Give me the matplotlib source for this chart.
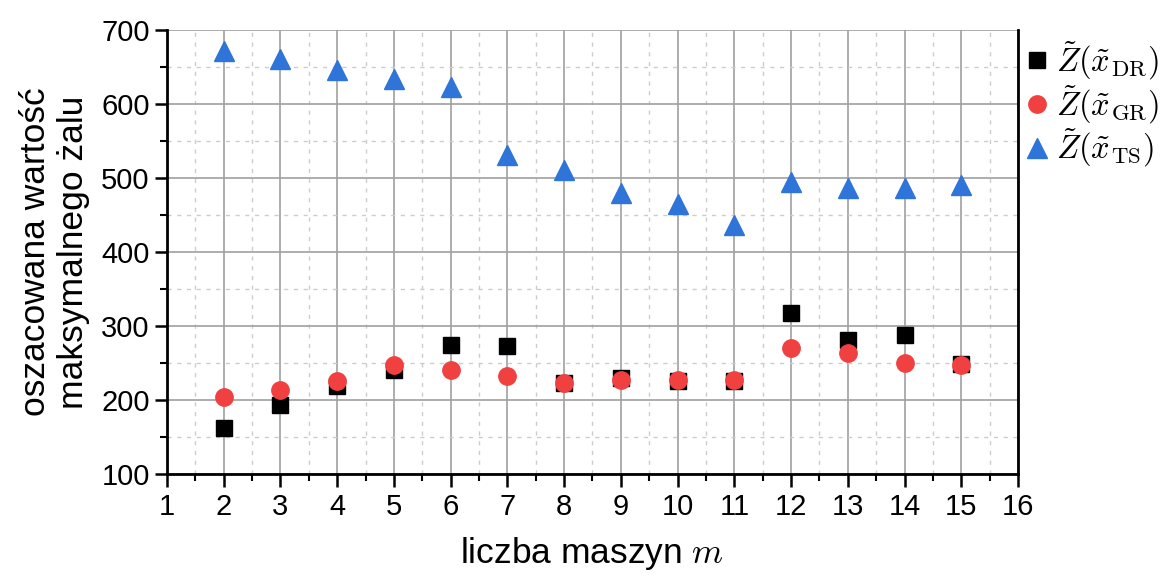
import matplotlib
matplotlib.use("Agg")
import matplotlib.pyplot as plt
from matplotlib.ticker import MultipleLocator

plt.rcParams['font.family'] = ['Liberation Sans', 'DejaVu Sans']
plt.rcParams['mathtext.fontset'] = 'cm'

machines = [2, 3, 4, 5, 6, 7, 8, 9, 10, 11, 12, 13, 14, 15]
z_dr = [162, 193, 219, 241, 274, 273, 223, 230, 226, 226, 318, 281, 288, 249]
z_gr = [204, 213, 226, 248, 241, 232, 223, 227, 227, 227, 270, 264, 250, 248]
z_ts = [672, 661, 646, 634, 623, 531, 511, 480, 465, 436, 494, 486, 487, 491]

labels = [r'$\tilde{Z}(\tilde{x}_{\mathrm{DR}})$',
          r'$\tilde{Z}(\tilde{x}_{\mathrm{GR}})$',
          r'$\tilde{Z}(\tilde{x}_{\mathrm{TS}})$']

fig = plt.figure(figsize=(11.63, 5.76), dpi=100)
ax = fig.add_axes([0.1436, 0.177, 0.7317, 0.771])

ax.plot(machines, z_dr, 's', color='black', markersize=11.5, label=labels[0], zorder=3)
ax.plot(machines, z_gr, 'o', color='#f04040', markersize=12.5, label=labels[1], zorder=4)
ax.plot(machines, z_ts, '^', color='#2f74d8', markersize=14, label=labels[2], zorder=3)

ax.set_xlim(1, 16)
ax.set_ylim(100, 700)
ax.xaxis.set_major_locator(MultipleLocator(1))
ax.xaxis.set_minor_locator(MultipleLocator(0.5))
ax.yaxis.set_major_locator(MultipleLocator(100))
ax.yaxis.set_minor_locator(MultipleLocator(50))
ax.grid(which='major', color='#a0a0a0', linestyle='-', linewidth=1.2)
ax.grid(which='minor', color='#cccccc', linestyle=(0, (3, 4)), linewidth=1.0)
ax.set_axisbelow(True)

ax.spines['top'].set_visible(False)
for s in ['left', 'right', 'bottom']:
    ax.spines[s].set_linewidth(2)
ax.tick_params(which='major', direction='out', length=9, width=1.8, labelsize=21)
ax.tick_params(which='minor', direction='out', length=5, width=1.5)
ax.tick_params(axis='y', which='both', right=False)
ax.tick_params(axis='x', which='major', pad=5)

ax.set_xlabel('liczba maszyn $m$', fontsize=25.5, labelpad=10)
ax.set_ylabel('oszacowana wartość\nmaksymalnego żalu', fontsize=25.5, labelpad=8)

ax.legend(loc='upper left', bbox_to_anchor=(1022 / 1163, 1 - 40 / 576),
          bbox_transform=fig.transFigure, frameon=False,
          fontsize=23.5, handletextpad=0.15, borderaxespad=0.0, borderpad=0.0,
          labelspacing=0.05, handlelength=0.9, markerscale=1.0)

fig.savefig('out.png', dpi=100)
